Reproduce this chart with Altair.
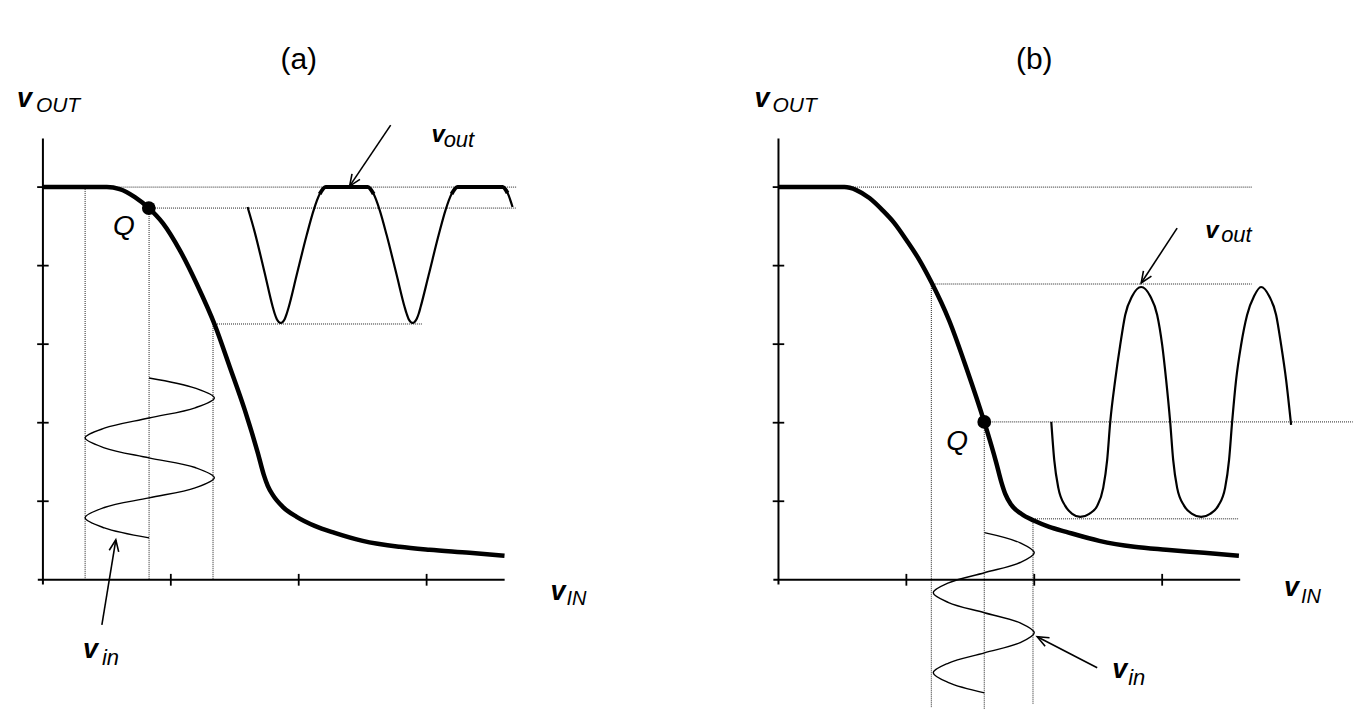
import math
import altair as alt
import pandas as pd

# ---------------- data (tick units: x ticks 1..3, y ticks 1..5) ----------------
x_ticks = [1, 2, 3]
y_ticks = [1, 2, 3, 4, 5]

# panel (a): inverter transfer curve
tc_a_u = [0.00, 0.50, 0.60, 0.719, 0.828, 0.9375, 1.070, 1.203, 1.344, 1.461, 1.578, 1.680, 1.727, 1.758,
          1.797, 1.875, 1.984, 2.125, 2.281, 2.50, 2.789, 3.023, 3.336, 3.609]
tc_a_v = [5.00, 5.00, 4.975, 4.873, 4.733, 4.542, 4.198, 3.766, 3.244, 2.71, 2.163, 1.616, 1.336, 1.196,
          1.081, 0.929, 0.802, 0.687, 0.598, 0.496, 0.42, 0.382, 0.344, 0.305]
# panel (a): input sine (drawn along the vertical direction)
vin_a_v = [2.57, 2.44, 2.315, 2.19, 2.06, 1.93, 1.807, 1.68, 1.552, 1.43, 1.30, 1.17, 1.043, 0.92, 0.789, 0.66, 0.534]
vin_a_u = [0.83, 1.19, 1.34, 1.19, 0.83, 0.48, 0.33, 0.48, 0.83, 1.19, 1.34, 1.19, 0.83, 0.48, 0.33, 0.48, 0.83]
# panel (a): output waveform (clipped at the top)
vout_a_u = [1.60, 1.656, 1.734, 1.797, 1.8125, 1.828, 1.844, 1.859, 1.875, 1.891, 1.906, 1.922, 1.984,
            2.0625, 2.117, 2.164, 2.211,
            2.539, 2.586, 2.633, 2.6875, 2.766, 2.828, 2.844, 2.859, 2.875, 2.891, 2.906, 2.922, 2.938,
            2.953, 3.016, 3.094, 3.148, 3.195, 3.242,
            3.594, 3.633, 3.672]
vout_a_v = [4.746, 4.427, 3.906, 3.473, 3.387, 3.321, 3.283, 3.27, 3.283, 3.321, 3.387, 3.473, 3.88,
            4.389, 4.707, 4.911, 5.0,
            5.0, 4.911, 4.707, 4.389, 3.88, 3.473, 3.387, 3.321, 3.283, 3.27, 3.283, 3.321, 3.387,
            3.473, 3.88, 4.389, 4.707, 4.911, 5.0,
            5.0, 4.924, 4.746]
q_a = (0.828, 4.733)

# panel (b)
tc_b_u = [0.00, 0.516, 0.609, 0.711, 0.8125, 0.906, 1.0, 1.102, 1.195, 1.336, 1.469, 1.609, 1.703, 1.742,
          1.773, 1.820, 1.898, 2.0, 2.117, 2.25, 2.508, 2.781, 3.031, 3.328, 3.60]
tc_b_v = [5.00, 5.00, 4.962, 4.86, 4.707, 4.542, 4.326, 4.071, 3.791, 3.295, 2.697, 2.01, 1.489, 1.247,
          1.094, 0.954, 0.840, 0.751, 0.674, 0.61, 0.496, 0.42, 0.382, 0.344, 0.305]
vin_b_v = [0.60, 0.47, 0.344, 0.22, 0.09, -0.04, -0.165, -0.29, -0.42, -0.55, -0.674, -0.80, -0.93, -1.06, -1.183, -1.31, -1.44]
vin_b_u = [1.61, 1.89, 2.00, 1.89, 1.61, 1.33, 1.21, 1.33, 1.61, 1.89, 2.00, 1.89, 1.61, 1.33, 1.21, 1.33, 1.61]
vout_b_u = [2.133, 2.156, 2.188, 2.242, 2.297, 2.359, 2.430, 2.492, 2.539, 2.570, 2.594, 2.633, 2.672,
            2.711, 2.766, 2.836, 2.906, 2.961, 3.0, 3.031, 3.0625, 3.086, 3.117, 3.172, 3.234, 3.305,
            3.375, 3.438, 3.492, 3.523, 3.547, 3.578, 3.617, 3.664, 3.719, 3.773, 3.836, 3.891, 3.930,
            3.969, 4.008]
vout_b_v = [2.01, 1.527, 1.17, 0.941, 0.84, 0.80, 0.84, 0.941, 1.17, 1.527, 2.01, 2.545, 2.99,
            3.372, 3.613, 3.728, 3.613, 3.372, 2.99, 2.545, 2.01, 1.527, 1.17, 0.941, 0.84, 0.80,
            0.84, 0.941, 1.17, 1.527, 2.01, 2.545, 2.99, 3.372, 3.613, 3.728, 3.613, 3.372, 2.99,
            2.545, 1.972]
q_b = (1.609, 2.01)

# dotted guide lines: (u, v, u2, v2)
guides_a = [(0.52, 5.0, 3.70, 5.0), (0.83, 4.733, 3.70, 4.733), (1.33, 3.257, 2.97, 3.257),
            (0.33, 5.0, 0.33, 0.0), (0.83, 4.733, 0.83, 0.0), (1.33, 3.257, 1.33, 0.0)]
guides_b = [(0.52, 5.0, 3.70, 5.0), (1.195, 3.766, 3.70, 3.766), (1.609, 2.01, 4.49, 2.01),
            (1.99, 0.776, 3.60, 0.776), (1.195, 3.766, 1.195, -1.63), (1.609, 2.01, 1.609, -1.65),
            (1.99, 0.776, 1.99, -1.59)]
# arrows: (from u, from v, tip u, tip v)
arrows_a = [(2.719, 5.789, 2.398, 5.013), (0.461, -0.573, 0.57, 0.509)]
arrows_b = [(3.117, 4.478, 2.836, 3.779), (2.492, -1.12, 2.023, -0.725)]

# text labels: (u, v, text[, font size])
title_a = [(2.0, 6.50, "(a)")]
title_b = [(2.0, 6.50, "(b)")]
bigv_a = [(-0.203, 6.018, "v", 27), (3.039, 5.573, "v", 24), (0.3125, -0.992, "v", 27), (3.969, -0.254, "v", 27)]
sub_a = [(-0.055, 5.954, "OUT", 21), (3.133, 5.509, "out", 22), (0.461, -1.081, "in", 22), (4.094, -0.318, "IN", 20)]
q_lab_a = [(0.547, 4.389, "Q")]
bigv_b = [(-0.1875, 6.018, "v", 27), (3.336, 4.351, "v", 24), (2.609, -1.247, "v", 27), (3.953, -0.204, "v", 27)]
sub_b = [(-0.047, 5.954, "OUT", 21), (3.461, 4.30, "out", 22), (2.734, -1.336, "in", 22), (4.086, -0.293, "IN", 20)]
q_lab_b = [(1.3125, 1.654, "Q")]

# ---------------- layout ----------------
W, H = 673, 712
Y_DOM = [-1.782, 7.277]
XA_DOM = [-0.273, 4.985]
XB_DOM = [-0.766, 4.492]
PX_U = W / (XA_DOM[1] - XA_DOM[0])
PX_V = H / (Y_DOM[1] - Y_DOM[0])
FONT = "Liberation Sans"
HEAD = "M -0.42 1 L 0 0 L 0.42 1"


def seq(us, vs):
    return pd.DataFrame({"u": us, "v": vs, "i": list(range(len(us)))})


def build(tc_u, tc_v, vin_u, vin_v, vout_u, vout_v, q, guides, arrows, titles, bigv, sub, qlab, xdom, caps):
    xs = alt.Scale(domain=xdom, nice=False, zero=False)
    ys = alt.Scale(domain=Y_DOM, nice=False, zero=False)
    X = alt.X("u:Q", scale=xs, axis=None)
    Y = alt.Y("v:Q", scale=ys, axis=None)

    axis_segs = [(-0.04, 0.0, 3.61, 0.0), (0.0, -0.06, 0.0, 5.62)]
    tick_segs = [(-0.045, t, 0.045, t) for t in y_ticks] + [(t, -0.075, t, 0.075) for t in x_ticks]

    def segdf(rows):
        return pd.DataFrame(rows, columns=["u", "v", "u2", "v2"])

    layers = []
    layers.append(alt.Chart(segdf(guides)).mark_rule(color="#222222", strokeWidth=1, strokeDash=[1, 1])
                  .encode(x=X, y=Y, x2="u2:Q", y2="v2:Q"))
    layers.append(alt.Chart(segdf(axis_segs)).mark_rule(color="black", strokeWidth=2)
                  .encode(x=X, y=Y, x2="u2:Q", y2="v2:Q"))
    layers.append(alt.Chart(segdf(tick_segs)).mark_rule(color="black", strokeWidth=1.8)
                  .encode(x=X, y=Y, x2="u2:Q", y2="v2:Q"))
    layers.append(alt.Chart(seq(vin_u, vin_v)).mark_line(color="black", strokeWidth=1.4, interpolate="catmull-rom")
                  .encode(x=X, y=Y, order="i:Q"))
    layers.append(alt.Chart(seq(vout_u, vout_v)).mark_line(color="black", strokeWidth=2.2, interpolate="monotone")
                  .encode(x=X, y=Y, order="i:Q"))
    if caps:
        cdf = seq(vout_u, vout_v)
        cdf = cdf[cdf["v"] >= 4.9].copy()
        cdf["g"] = (cdf["u"] > 2.9).astype(int)
        layers.append(alt.Chart(cdf).mark_line(color="black", strokeWidth=4, interpolate="monotone")
                      .encode(x=X, y=Y, order="i:Q", detail="g:N"))
    layers.append(alt.Chart(seq(tc_u, tc_v)).mark_line(color="black", strokeWidth=4.5, interpolate="monotone")
                  .encode(x=X, y=Y, order="i:Q"))
    layers.append(alt.Chart(pd.DataFrame({"u": [q[0]], "v": [q[1]]}))
                  .mark_point(filled=True, size=190, color="black", opacity=1).encode(x=X, y=Y))

    shafts = segdf([a for a in arrows])
    layers.append(alt.Chart(shafts).mark_rule(color="black", strokeWidth=1.6)
                  .encode(x=X, y=Y, x2="u2:Q", y2="v2:Q"))
    heads = []
    for (u0, v0, u1, v1) in arrows:
        dx = (u1 - u0) * PX_U
        dy = -(v1 - v0) * PX_V
        ang = math.degrees(math.atan2(dx, -dy)) % 360
        heads.append({"u": u1, "v": v1, "ang": ang})
    layers.append(alt.Chart(pd.DataFrame(heads))
                  .mark_point(shape=HEAD, filled=False, size=520, strokeWidth=1.6, color="black", opacity=1)
                  .encode(x=X, y=Y, angle=alt.Angle("ang:Q", scale=None)))

    tdf = pd.DataFrame(titles, columns=["u", "v", "t"])
    layers.append(alt.Chart(tdf).mark_text(font=FONT, fontSize=30, align="center", baseline="alphabetic", color="black")
                  .encode(x=X, y=Y, text="t:N"))
    bdf = pd.DataFrame(bigv, columns=["u", "v", "t", "fs"])
    layers.append(alt.Chart(bdf).mark_text(font=FONT, fontStyle="italic", fontWeight="bold", align="left",
                                           baseline="alphabetic", color="black")
                  .encode(x=X, y=Y, text="t:N", size=alt.Size("fs:Q", scale=None)))
    sdf = pd.DataFrame(sub, columns=["u", "v", "t", "fs"])
    layers.append(alt.Chart(sdf).mark_text(font=FONT, fontStyle="italic", align="left",
                                           baseline="alphabetic", color="black")
                  .encode(x=X, y=Y, text="t:N", size=alt.Size("fs:Q", scale=None)))
    qdf = pd.DataFrame(qlab, columns=["u", "v", "t"])
    layers.append(alt.Chart(qdf).mark_text(font=FONT, fontStyle="italic", fontSize=28, align="left",
                                           baseline="alphabetic", color="black")
                  .encode(x=X, y=Y, text="t:N"))
    return alt.layer(*layers).properties(width=W, height=H)


pa = build(tc_a_u, tc_a_v, vin_a_u, vin_a_v, vout_a_u, vout_a_v, q_a, guides_a, arrows_a,
           title_a, bigv_a, sub_a, q_lab_a, XA_DOM, True)
pb = build(tc_b_u, tc_b_v, vin_b_u, vin_b_v, vout_b_u, vout_b_v, q_b, guides_b, arrows_b,
           title_b, bigv_b, sub_b, q_lab_b, XB_DOM, False)

chart = (alt.hconcat(pa, pb, spacing=0)
         .properties(padding=0, background="white")
         .configure_view(stroke=None))

chart.save("out.html", embed_options={"renderer": "svg", "actions": False})
